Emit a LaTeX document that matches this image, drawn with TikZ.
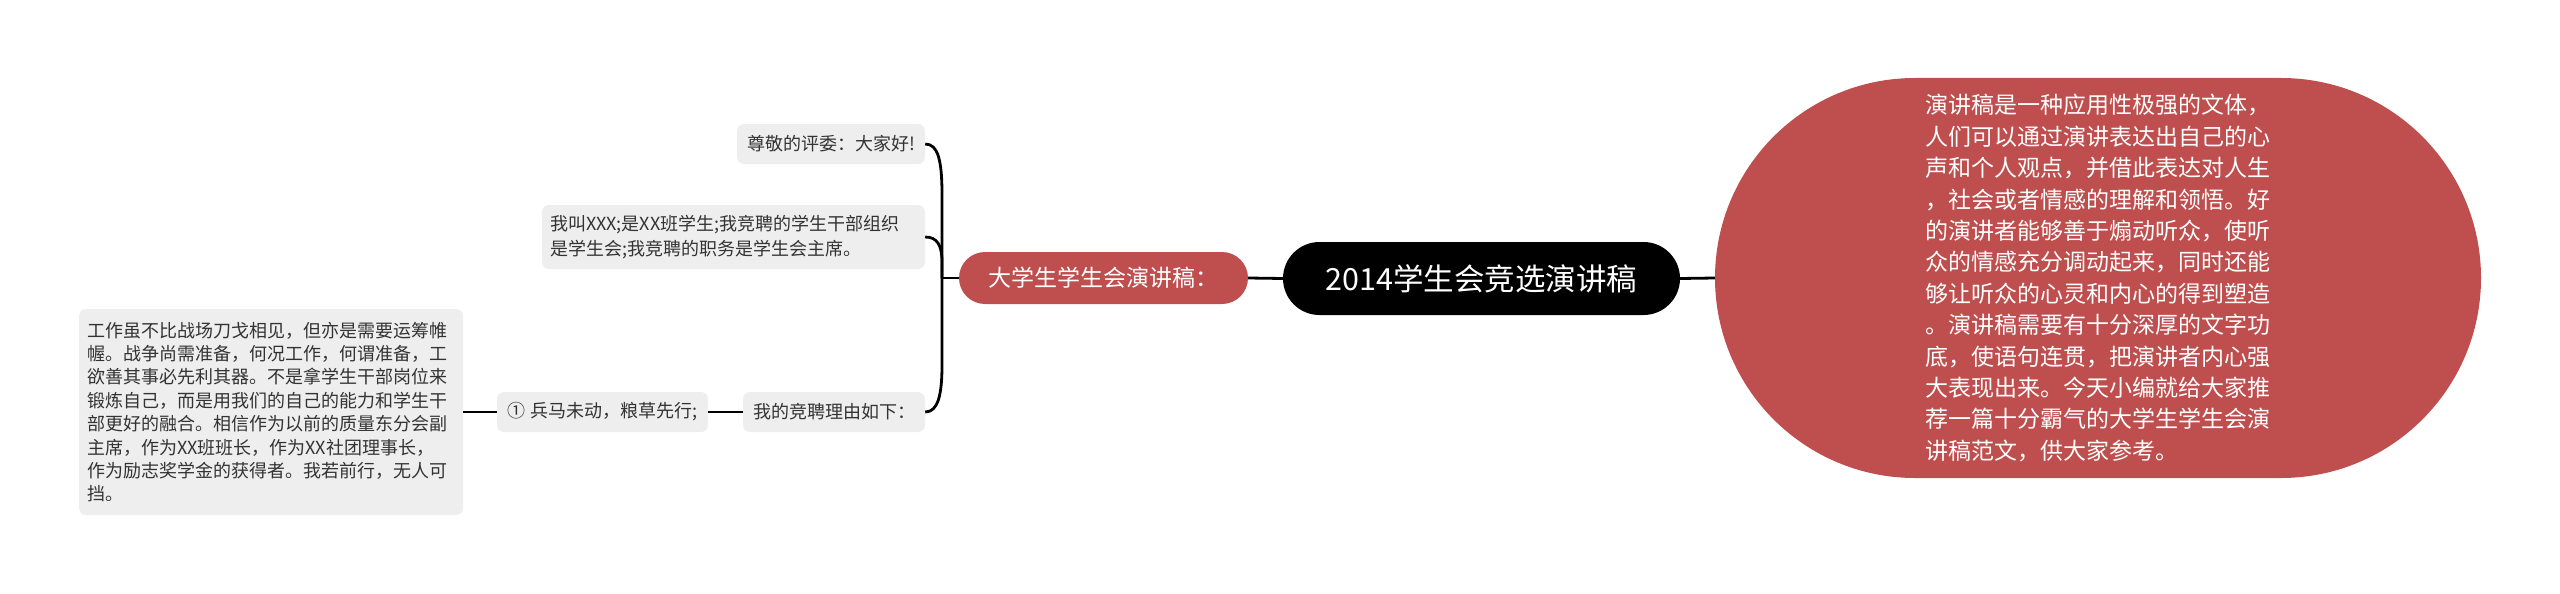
\documentclass[tikz,border=0pt]{standalone}
\usepackage{fontspec}
\setmainfont{Noto Sans CJK SC}
\usetikzlibrary{shapes.misc}
\definecolor{mmred}{HTML}{BF4E4E}
\definecolor{mmgray}{HTML}{EEEEEE}
\definecolor{mmtext}{HTML}{333333}
\begin{document}
\begin{tikzpicture}[x=1pt,y=-1pt,
  leaf/.style={fill=mmgray, rounded corners=7pt, text=mmtext, inner sep=0pt, align=left, font=\fontsize{18}{24}\selectfont},
  pill/.style={rounded rectangle, inner sep=0pt},
  conn/.style={draw=black, line width=2.8pt}]
\useasboundingbox (0,0) rectangle (2560,594);

% central and right side
\node[pill, fill=black, text=white, minimum width=397pt, minimum height=73pt,
  font=\fontsize{30.5}{36}\selectfont] (root) at (1481.5,278.5) {2014学生会竞选演讲稿};
\node[pill, fill=mmred, text=white, minimum width=766pt, minimum height=400pt, align=left,
  font=\fontsize{23}{31.4}\selectfont] (desc) at (2098,278) {演讲稿是一种应用性极强的文体，\\
人们可以通过演讲表达出自己的心\\
声和个人观点，并借此表达对人生\\
，社会或者情感的理解和领悟。好\\
的演讲者能够善于煽动听众，使听\\
众的情感充分调动起来，同时还能\\
够让听众的心灵和内心的得到塑造\\
。演讲稿需要有十分深厚的文字功\\
底，使语句连贯，把演讲者内心强\\
大表现出来。今天小编就给大家推\\
荐一篇十分霸气的大学生学生会演\\
讲稿范文，供大家参考。};

% left branch
\node[pill, fill=mmred, text=white, minimum width=289pt, minimum height=52pt,
  font=\fontsize{23}{28}\selectfont] (sub) at (1103.5,278) {大学生学生会演讲稿：};

\node[leaf, minimum width=188pt, minimum height=40pt] (g1) at (831,144) {尊敬的评委：大家好!};
\node[leaf, inner xsep=8pt, text width=367pt, minimum height=64pt, font=\fontsize{18}{25}\selectfont] (g2) at (733.5,237)
  {我叫XXX;是XX班学生;我竞聘的学生干部组织\\是学生会;我竞聘的职务是学生会主席。};
\node[leaf, minimum width=182pt, minimum height=40pt] (g3) at (834,412) {我的竞聘理由如下：};
\node[leaf, minimum width=211pt, minimum height=40pt] (g4) at (602.5,412) {① 兵马未动，粮草先行;};
\node[leaf, inner xsep=8pt, text width=368pt, minimum height=206pt, font=\fontsize{18}{23.4}\selectfont] (g5) at (271,412)
  {工作虽不比战场刀戈相见，但亦是需要运筹帷\\
幄。战争尚需准备，何况工作，何谓准备，工\\
欲善其事必先利其器。不是拿学生干部岗位来\\
锻炼自己，而是用我们的自己的能力和学生干\\
部更好的融合。相信作为以前的质量东分会副\\
主席，作为XX班班长，作为XX社团理事长，\\
作为励志奖学金的获得者。我若前行，无人可\\
挡。};

% connectors
\coordinate (J) at (942,278);
\draw[conn] (sub.west) -- (J);
\draw[conn] (g1.east) .. controls (938,144) and (942,160) .. (942,195) -- (J);
\draw[conn] (g2.east) .. controls (937,237) and (942,245) .. (942,262) -- (J);
\draw[conn] (g3.east) .. controls (938,412) and (942,395) .. (942,365) -- (J);
\draw[conn] (g3.west) -- (g4.east);
\draw[conn] (g4.west) -- (g5.east);
\draw[conn] (sub.east) -- (root.west);
\draw[conn] (root.east) -- (desc.west);
\end{tikzpicture}
\end{document}
